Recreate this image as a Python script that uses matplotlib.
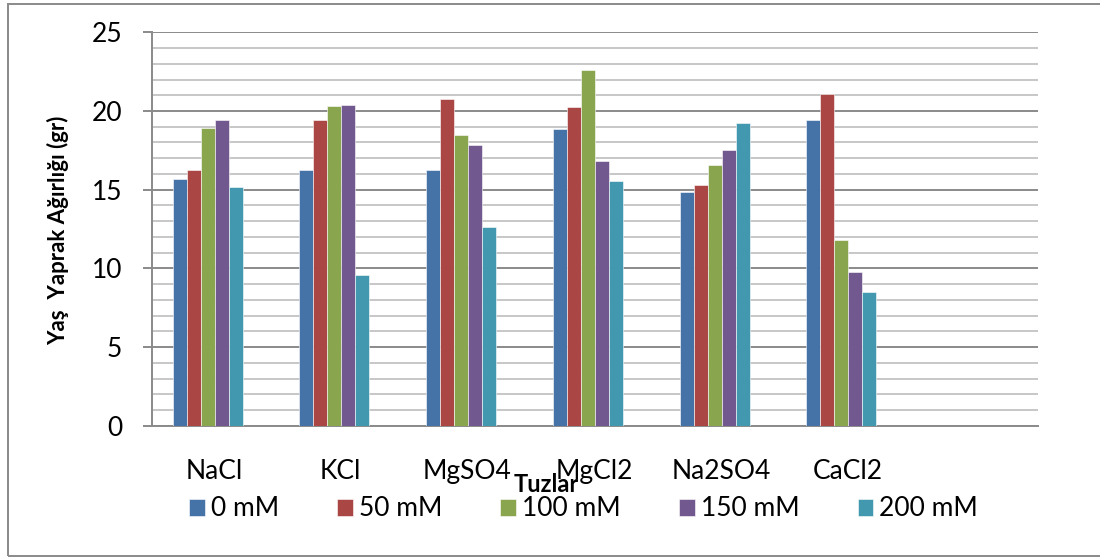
import matplotlib
matplotlib.use("Agg")
import matplotlib.pyplot as plt
import numpy as np
from matplotlib.patches import Rectangle

plt.rcParams["font.family"] = ["Lato", "DejaVu Sans"]

# %% data
salts = ["NaCl", "KCl", "MgSO4", "MgCl2", "Na2SO4", "CaCl2", ""]
doses = ["0 mM", "50 mM", "100 mM", "150 mM", "200 mM"]
v_0 = [15.7, 16.25, 16.25, 18.85, 14.85, 19.45, np.nan]
v_50 = [16.25, 19.45, 20.75, 20.25, 15.3, 21.1, np.nan]
v_100 = [18.9, 20.3, 18.5, 22.6, 16.6, 11.8, np.nan]
v_150 = [19.4, 20.35, 17.85, 16.8, 17.5, 9.8, np.nan]
v_200 = [15.15, 9.55, 12.65, 15.55, 19.25, 8.5, np.nan]
colors = ["#4572A7", "#AA4643", "#89A54E", "#71588F", "#4198AF"]

# %% plot
fig = plt.figure(figsize=(11, 5.59), dpi=100)
ax = fig.add_axes([0.1382, 0.2383, 0.8054, 0.7039])

x = np.arange(len(salts))
w = 0.1105
for i, (vals, lab) in enumerate(zip([v_0, v_50, v_100, v_150, v_200], doses)):
    ax.bar(x + (i - 2) * w, vals, w, color=colors[i], label=lab,
           edgecolor="#ffffff", linewidth=0.4, zorder=3)

ax.set_xlim(-0.44, 6.553)
ax.set_ylim(0, 25)
ax.set_yticks(np.arange(0, 26, 5))
ax.set_yticks(np.arange(0, 26, 1), minor=True)
ax.grid(axis="y", which="major", color="#8a8a8a", linewidth=1.4, zorder=0)
ax.grid(axis="y", which="minor", color="#bdbdbd", linewidth=1.2, zorder=0)
ax.set_axisbelow(True)

for s in ["top", "right"]:
    ax.spines[s].set_visible(False)
for s in ["left", "bottom"]:
    ax.spines[s].set_color("#8a8a8a")
    ax.spines[s].set_linewidth(1.4)

ax.tick_params(axis="y", which="major", direction="out", length=6.5, width=1.4,
               color="#8a8a8a", pad=15, labelsize=19)
ax.tick_params(axis="y", which="minor", length=0)
ax.set_xticks(x + 0.05)
ax.set_xticklabels(salts)
ax.tick_params(axis="x", length=0, pad=24, labelsize=19)

fig.text(58 / 1100, 1 - 230 / 559, "Yaş  Yaprak Ağırlığı (gr)", rotation=90,
         fontsize=16, fontweight="bold", ha="center", va="center")
fig.text(546 / 1100, 1 - 484 / 559, "Tuzlar", fontsize=17, fontweight="bold",
         ha="center", va="center")

ax.legend(loc="center left", bbox_to_anchor=(189 / 1100, 1 - 509 / 559),
          bbox_transform=fig.transFigure, ncol=5, frameon=False, fontsize=19,
          handlelength=0.6, handleheight=0.6, handletextpad=0.23,
          columnspacing=2.2, borderpad=0, borderaxespad=0)

fig.patches.append(Rectangle((8 / 1100, 1 - 556 / 559), 1.2, 552 / 559,
                             transform=fig.transFigure, fill=False,
                             edgecolor="#8a8a8a", linewidth=1.4))

fig.savefig("out.png", dpi=100)
